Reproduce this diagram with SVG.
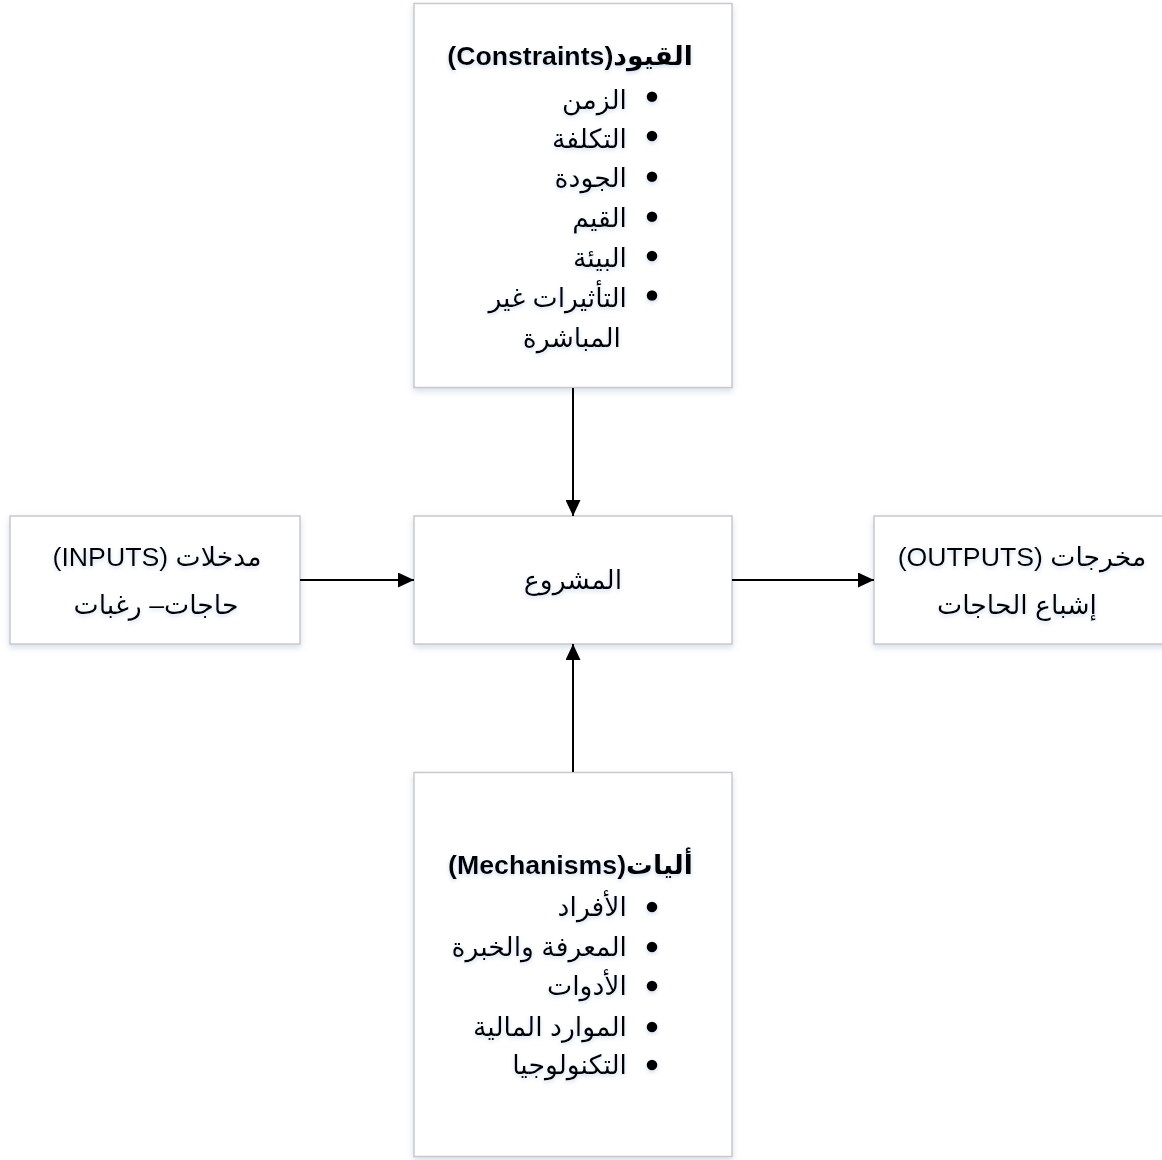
<svg xmlns="http://www.w3.org/2000/svg" width="1162" height="1160" viewBox="0 0 1162 1160">
  <defs>
    <filter id="boxShadow" x="-5%" y="-5%" width="110%" height="115%">
      <feDropShadow dx="0" dy="3" stdDeviation="3" flood-color="#b9c9de" flood-opacity="0.6"/>
    </filter>
    <filter id="textGlow" x="-5%" y="-20%" width="110%" height="160%">
      <feDropShadow dx="0" dy="2" stdDeviation="2" flood-color="#8fb0d8" flood-opacity="0.45"/>
    </filter>
    <marker id="arrow" markerUnits="userSpaceOnUse" markerWidth="16" markerHeight="15" refX="16" refY="7.5" orient="auto">
      <path d="M0,0 L16,7.5 L0,15 z" fill="#000"/>
    </marker>
  </defs>
  <style>
    .box { fill: #ffffff; stroke: #c9c9c9; stroke-width: 1.5; filter: url(#boxShadow); }
    .txt { font-family: "Liberation Sans", Arial, "DejaVu Sans", sans-serif; font-size: 26.7px; fill: #000; }
    .title { font-weight: bold; }
    .rtl { direction: rtl; unicode-bidi: embed; }
    .mid { text-anchor: middle; }
    .right { text-anchor: start; }
    .bullet { fill: #000; }
    .conn { stroke: #000; stroke-width: 2; fill: none; }
    .labels { filter: url(#textGlow); }
  </style>

  <rect width="1162" height="1160" fill="#ffffff"/>

  <!-- Constraints -->
  <g id="constraints">
    <rect class="box" x="414" y="3.5" width="318" height="384"/>
    <g class="labels">
      <text class="txt title rtl right" x="693" y="65" direction="rtl">القيود(Constraints)</text>
      <circle class="bullet" cx="652" cy="96.7" r="5.3"/>
      <circle class="bullet" cx="652" cy="136" r="5.3"/>
      <circle class="bullet" cx="652" cy="176.7" r="5.3"/>
      <circle class="bullet" cx="652" cy="216.7" r="5.3"/>
      <circle class="bullet" cx="652" cy="256" r="5.3"/>
      <circle class="bullet" cx="652" cy="295.5" r="5.3"/>
      <text class="txt rtl right" x="627" y="109" direction="rtl">الزمن</text>
      <text class="txt rtl right" x="627" y="148" direction="rtl">التكلفة</text>
      <text class="txt rtl right" x="627" y="187" direction="rtl">الجودة</text>
      <text class="txt rtl right" x="627" y="227" direction="rtl">القيم</text>
      <text class="txt rtl right" x="627" y="267" direction="rtl">البيئة</text>
      <text class="txt rtl right" x="627" y="307" direction="rtl">التأثيرات غير</text>
      <text class="txt rtl right" x="621" y="347" direction="rtl">المباشرة</text>
    </g>
  </g>

  <!-- Inputs -->
  <g id="inputs">
    <rect class="box" x="10" y="516" width="290" height="128"/>
    <g class="labels">
      <text class="txt rtl mid" x="157" y="566" direction="rtl">مدخلات (INPUTS)</text>
      <text class="txt rtl mid" x="156" y="614" direction="rtl">حاجات– رغبات</text>
    </g>
  </g>

  <!-- Project -->
  <g id="project">
    <rect class="box" x="414" y="516" width="318" height="128"/>
    <g class="labels">
      <text class="txt rtl mid" x="573" y="589" direction="rtl">المشروع</text>
    </g>
  </g>

  <!-- Outputs -->
  <g id="outputs">
    <rect class="box" x="874" y="516" width="300" height="128"/>
    <g class="labels">
      <text class="txt rtl mid" x="1022" y="566" direction="rtl">مخرجات (OUTPUTS)</text>
      <text class="txt rtl mid" x="1017" y="614" direction="rtl">إشباع الحاجات</text>
    </g>
  </g>

  <!-- Mechanisms -->
  <g id="mechanisms">
    <rect class="box" x="414" y="772.5" width="318" height="384"/>
    <g class="labels">
      <text class="txt title rtl right" x="693" y="874" direction="rtl">أليات(Mechanisms)</text>
      <circle class="bullet" cx="652" cy="907" r="5.3"/>
      <circle class="bullet" cx="652" cy="947" r="5.3"/>
      <circle class="bullet" cx="652" cy="986" r="5.3"/>
      <circle class="bullet" cx="652" cy="1027" r="5.3"/>
      <circle class="bullet" cx="652" cy="1065" r="5.3"/>
      <text class="txt rtl right" x="627" y="916" direction="rtl">الأفراد</text>
      <text class="txt rtl right" x="627" y="956" direction="rtl">المعرفة والخبرة</text>
      <text class="txt rtl right" x="627" y="995" direction="rtl">الأدوات</text>
      <text class="txt rtl right" x="627" y="1036" direction="rtl">الموارد المالية</text>
      <text class="txt rtl right" x="627" y="1074" direction="rtl">التكنولوجيا</text>
    </g>
  </g>

  <!-- Connectors -->
  <g id="connectors">
    <line class="conn" x1="573" y1="388" x2="573" y2="516" marker-end="url(#arrow)"/>
    <line class="conn" x1="573" y1="772" x2="573" y2="644" marker-end="url(#arrow)"/>
    <line class="conn" x1="300" y1="580" x2="414" y2="580" marker-end="url(#arrow)"/>
    <line class="conn" x1="732" y1="580" x2="874" y2="580" marker-end="url(#arrow)"/>
  </g>
</svg>
